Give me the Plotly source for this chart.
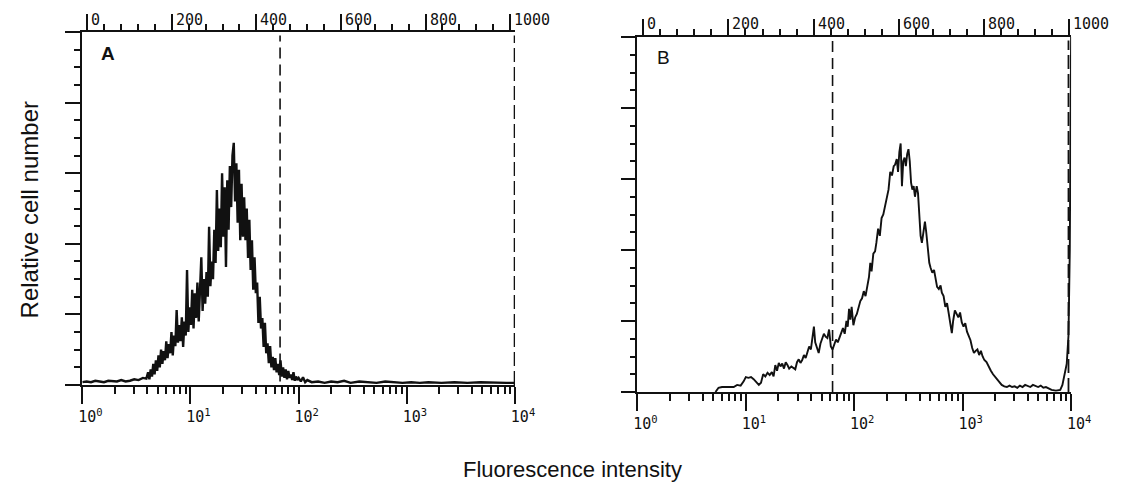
import plotly.graph_objects as go

W, H = 1142, 482

# ---------------- data (channel 0-1000 over 4 decades, relative count) -------------
A_channel = [0, 10, 20, 30, 40, 50, 60, 70, 80, 90, 100, 110, 120, 130, 140, 148,
             152, 155, 158, 161, 164, 167, 170, 173, 176, 179, 182, 185, 188, 191, 194, 197,
             200, 203, 206, 209, 212, 215, 218, 221, 224, 227, 230, 233, 236, 239, 242, 245,
             248, 251, 254, 257, 260, 263, 266, 269, 272, 275, 278, 281, 284, 287, 290, 293,
             296, 299, 302, 305, 308, 311, 314, 317, 320, 323, 326, 329, 332, 335, 338, 341,
             344, 347, 350, 353, 356, 359, 362, 365, 368, 371, 374, 377, 380, 383, 386, 389,
             392, 395, 398, 401, 404, 407, 410, 413, 416, 419, 422, 425, 428, 431, 434, 437,
             440, 443, 446, 449, 452, 455, 458, 461, 464, 467, 470, 473, 476, 479, 482, 485,
             488, 491, 494, 497, 500, 505, 510, 515, 520,
             530, 545, 560, 575, 590, 605, 620, 640, 660, 680, 700, 720, 740, 760, 780, 800,
             830, 860, 890, 920, 950, 980, 1000]
A_count = [0.04, 0.05, 0.04, 0.06, 0.05, 0.04, 0.06, 0.05, 0.05, 0.07, 0.05, 0.06, 0.08, 0.07, 0.10, 0.09,
           0.18, 0.08, 0.22, 0.12, 0.30, 0.15, 0.35, 0.20, 0.42, 0.25, 0.50, 0.30, 0.48, 0.35, 0.62, 0.38,
           0.58, 0.45, 0.75, 0.42, 0.70, 0.55, 1.06, 0.60, 0.85, 0.62, 0.96, 0.54, 0.90, 0.70, 1.63, 0.75,
           1.10, 0.85, 1.35, 0.80, 1.30, 0.95, 1.45, 0.90, 1.40, 1.81, 1.05, 1.50, 1.15, 1.60, 1.25, 2.24,
           1.40, 1.75, 1.50, 2.20, 1.73, 2.76, 1.90, 2.50, 1.95, 3.00, 2.10, 2.80, 1.67, 2.90, 2.20, 3.10,
           2.52, 3.25, 3.43, 2.60, 3.14, 2.30, 3.05, 2.05, 2.85, 2.10, 2.66, 2.05, 2.50, 1.80, 2.34, 1.63,
           2.05, 1.35, 1.81, 1.30, 1.45, 0.88, 1.25, 0.80, 0.95, 0.54, 0.88, 0.45, 0.59, 0.31, 0.55, 0.25,
           0.40, 0.21, 0.38, 0.18, 0.30, 0.14, 0.35, 0.12, 0.25, 0.10, 0.22, 0.08, 0.20, 0.10, 0.15, 0.07,
           0.18, 0.06, 0.12, 0.07, 0.10, 0.05, 0.11, 0.04, 0.07,
           0.04, 0.05, 0.03, 0.05, 0.04, 0.06, 0.03, 0.05, 0.04, 0.03, 0.05, 0.04, 0.03, 0.04, 0.03, 0.04,
           0.03, 0.04, 0.03, 0.04, 0.03, 0.03, 0.03]

B_channel = [180, 187, 195, 205, 215, 222, 230, 238, 245, 250, 256, 262, 268, 274, 280, 285,
             290, 295, 300, 305, 310, 314, 318, 322, 326, 330, 334, 338, 342, 346, 350, 355,
             360, 364, 368, 372, 376, 380, 384, 388, 392, 396, 400, 404, 407, 410, 414, 418,
             422, 426, 430, 434, 438, 442, 446, 450, 454, 458, 462, 466, 470, 474, 478, 482,
             485, 488, 491, 494, 498, 502, 506, 510, 514, 518, 522, 526, 530, 534, 537, 540,
             544, 548, 551, 555, 559, 563, 567, 571, 575, 579, 583, 587, 591, 594, 598, 601,
             604, 607, 610, 613, 616, 619, 622, 625, 628, 631, 634, 637, 640, 644, 647, 650,
             653, 656, 660, 663, 666, 670, 673, 676, 680, 684, 688, 691, 695, 699, 702, 706,
             710, 714, 718, 722, 725, 728, 732, 736, 740, 744, 748, 752, 756, 760, 764, 768,
             772, 776, 780, 784, 788, 792, 796, 800, 805, 810, 815, 820, 825, 830, 835, 840,
             846, 852, 858, 864, 870, 876, 882, 888, 894, 900, 906, 912, 918, 924, 930, 936,
             942, 948, 955, 965, 975, 980, 985, 990, 994, 997, 1000]
B_count = [0.00, 0.06, 0.07, 0.07, 0.08, 0.07, 0.10, 0.09, 0.15, 0.21, 0.20, 0.21, 0.18, 0.14, 0.10, 0.13,
           0.25, 0.22, 0.27, 0.24, 0.28, 0.22, 0.38, 0.30, 0.41, 0.36, 0.40, 0.33, 0.42, 0.38, 0.33, 0.36,
           0.34, 0.32, 0.42, 0.46, 0.41, 0.45, 0.52, 0.48, 0.56, 0.64, 0.60, 0.78, 0.92, 0.70, 0.62, 0.55,
           0.68, 0.75, 0.82, 0.78, 0.76, 0.88, 0.64, 0.60, 0.66, 0.74, 0.70, 0.77, 0.84, 0.90, 0.82, 1.00,
           0.92, 1.17, 1.02, 1.20, 0.94, 1.05, 1.10, 1.20, 1.28, 1.32, 1.42, 1.35, 1.48, 1.62, 1.82, 1.70,
           1.95, 1.98, 2.10, 2.30, 2.20, 2.45, 2.50, 2.62, 2.70, 2.85, 3.10, 3.05, 3.18, 3.20, 3.28, 3.10,
           3.38, 3.50, 2.90, 3.25, 3.30, 3.18, 3.35, 3.42, 3.25, 2.95, 2.85, 2.90, 2.75, 2.90, 2.80, 2.45,
           2.20, 2.10, 2.30, 2.40, 2.25, 1.95, 1.82, 1.75, 1.68, 1.72, 1.55, 1.48, 1.45, 1.50, 1.40, 1.35,
           1.20, 1.25, 1.10, 0.95, 0.83, 1.00, 1.15, 1.10, 1.05, 1.12, 0.98, 0.92, 0.97, 0.85, 0.78, 0.73,
           0.62, 0.55, 0.58, 0.60, 0.52, 0.58, 0.50, 0.45, 0.42, 0.35, 0.30, 0.25, 0.21, 0.18, 0.13, 0.10,
           0.08, 0.07, 0.09, 0.07, 0.08, 0.06, 0.09, 0.07, 0.10, 0.08, 0.07, 0.10, 0.08, 0.07, 0.09, 0.06,
           0.07, 0.05, 0.03, 0.02, 0.03, 0.10, 0.27, 0.40, 0.80, 2.00, 5.00]

gate_A = 457          # channel of the dashed marker in panel A
gate_B = 450          # channel of the dashed marker in panel B
edge_A = 999          # right-hand dashed marker, panel A
edge_B = 994          # right-hand dashed marker, panel B

decade_vals = [1, 10, 100, 1000, 10000]
decade_text = ["10<sup>0</sup>", "10<sup>1</sup>", "10<sup>2</sup>", "10<sup>3</sup>", "10<sup>4</sup>"]
minor_log_vals = [m * 10 ** k for k in range(4) for m in range(2, 10)]
top_vals = [0, 200, 400, 600, 800, 1000]
top_text = ["0", "200", "400", "600", "800", "1000"]
top_minor_vals = [v for v in range(0, 1001, 40) if v % 200 != 0]
y_major = [0, 1, 2, 3, 4, 5]
y_minor = [i * 0.25 for i in range(21) if i % 4 != 0]

panel_labels = ["A", "B"]
x_title = "Fluorescence intensity"
y_title = "Relative cell number"


def ch2fl(c):
    return 10 ** (c / 250.0)


BLACK = "#111111"
TICKFONT = dict(family="DejaVu Sans Mono", size=15, color=BLACK)

fig = go.Figure()

# ---------------- traces ----------------
fig.add_trace(go.Scatter(x=[ch2fl(c) for c in A_channel], y=A_count, mode="lines",
                         line=dict(color=BLACK, width=2.4), xaxis="x", yaxis="y",
                         showlegend=False, hoverinfo="skip"))
fig.add_trace(go.Scatter(x=[ch2fl(gate_A)] * 2, y=[0.05, 4.95], mode="lines",
                         line=dict(color=BLACK, width=1.6, dash="11px,6px"), xaxis="x", yaxis="y",
                         showlegend=False, hoverinfo="skip"))
fig.add_trace(go.Scatter(x=[ch2fl(edge_A)] * 2, y=[0.0, 4.95], mode="lines",
                         line=dict(color=BLACK, width=1.8, dash="14px,5px"), xaxis="x", yaxis="y",
                         showlegend=False, hoverinfo="skip"))

fig.add_trace(go.Scatter(x=[ch2fl(c) for c in B_channel], y=B_count, mode="lines",
                         line=dict(color=BLACK, width=1.9), xaxis="x5", yaxis="y2",
                         showlegend=False, hoverinfo="skip"))
fig.add_trace(go.Scatter(x=[ch2fl(gate_B)] * 2, y=[0.0, 4.95], mode="lines",
                         line=dict(color=BLACK, width=1.6, dash="11px,6px"), xaxis="x5", yaxis="y2",
                         showlegend=False, hoverinfo="skip"))
fig.add_trace(go.Scatter(x=[ch2fl(edge_B)] * 2, y=[0.0, 4.95], mode="lines",
                         line=dict(color=BLACK, width=1.8, dash="14px,5px"), xaxis="x5", yaxis="y2",
                         showlegend=False, hoverinfo="skip"))

# invisible traces so every overlay axis is drawn
for xa, ya in [("x2", "y"), ("x3", "y"), ("x4", "y"), ("x6", "y2"), ("x7", "y2"), ("x8", "y2")]:
    fig.add_trace(go.Scatter(x=[None], y=[None], xaxis=xa, yaxis=ya, showlegend=False,
                             hoverinfo="skip"))


def bottom_major(domain, anchor):
    return dict(domain=domain, type="log", range=[0, 4], anchor=anchor, showline=True,
                linecolor=BLACK, linewidth=1.8, ticks="outside", ticklen=17, tickwidth=1.6,
                tickcolor=BLACK, tickvals=decade_vals, ticktext=decade_text, tickfont=TICKFONT,
                ticklabelshift=8, showgrid=False, zeroline=False)


def bottom_minor(base, anchor):
    return dict(overlaying=base, type="log", range=[0, 4], anchor=anchor, showline=False,
                ticks="outside", ticklen=8, tickwidth=1.6, tickcolor=BLACK,
                tickvals=minor_log_vals, showticklabels=False, showgrid=False, zeroline=False)


def top_major(base, anchor, rng):
    return dict(overlaying=base, side="top", range=rng, anchor=anchor, showline=True,
                linecolor=BLACK, linewidth=1.8, ticks="outside", ticklen=16, tickwidth=1.6,
                tickcolor=BLACK, tickvals=top_vals, showticklabels=False, showgrid=False,
                zeroline=False)


def top_minor(base, anchor, rng):
    return dict(overlaying=base, side="top", range=rng, anchor=anchor, showline=False,
                ticks="outside", ticklen=7, tickwidth=1.6, tickcolor=BLACK,
                tickvals=top_minor_vals, showticklabels=False, showgrid=False, zeroline=False)


def yax(domain, anchor):
    return dict(domain=domain, range=[0, 5], anchor=anchor, showline=True, linecolor=BLACK,
                linewidth=1.8, ticks="outside", ticklen=15, tickwidth=1.6, tickcolor=BLACK,
                tickvals=y_major, showticklabels=False, showgrid=False, zeroline=False,
                minor=dict(tickvals=y_minor, ticks="outside", ticklen=6, tickwidth=1.5,
                           tickcolor=BLACK, showgrid=False))


A_dx = [80 / W, 522 / W]
B_dx = [647 / W, 1090 / W]
A_dy = [1 - 385 / H, 1 - 32 / H]
B_dy = [1 - 392 / H, 1 - 37 / H]
A_top_rng = [-11.6, 1011.6]
B_top_rng = [-13.8, 1004.6]

fig.update_layout(
    width=W, height=H, margin=dict(l=0, r=0, t=0, b=0),
    paper_bgcolor="white", plot_bgcolor="white", showlegend=False,
    xaxis=bottom_major(A_dx, "y"),
    xaxis2=bottom_minor("x", "y"),
    xaxis3=top_major("x", "y", A_top_rng),
    xaxis4=top_minor("x", "y", A_top_rng),
    xaxis5=bottom_major(B_dx, "y2"),
    xaxis6=bottom_minor("x5", "y2"),
    xaxis7=top_major("x5", "y2", B_top_rng),
    xaxis8=top_minor("x5", "y2", B_top_rng),
    yaxis=yax(A_dy, "x"),
    yaxis2=yax(B_dy, "x5"),
)

ann = []
TOPFONT = dict(family="DejaVu Sans Mono", size=15, color=BLACK)
for v, t in zip(top_vals, top_text):
    ann.append(dict(x=v, xref="x3", y=1 - 20 / H, yref="paper", text=t, showarrow=False,
                    xanchor="left", yanchor="middle", xshift=2, font=TOPFONT))
    ann.append(dict(x=v, xref="x7", y=1 - 24 / H, yref="paper", text=t, showarrow=False,
                    xanchor="left", yanchor="middle", xshift=2, font=TOPFONT))

ann.append(dict(x=106 / W, y=1 - 53 / H, xref="paper", yref="paper", text="<b>" + panel_labels[0] + "</b>",
                showarrow=False, xanchor="center", yanchor="middle",
                font=dict(family="Liberation Sans", size=19, color=BLACK)))
ann.append(dict(x=674 / W, y=1 - 57 / H, xref="paper", yref="paper", text=panel_labels[1],
                showarrow=False, xanchor="center", yanchor="middle",
                font=dict(family="Liberation Sans", size=19, color=BLACK)))
ann.append(dict(x=581 / W, y=1 - 469 / H, xref="paper", yref="paper", text=x_title,
                showarrow=False, xanchor="center", yanchor="middle",
                font=dict(family="Liberation Sans", size=22, color=BLACK)))
ann.append(dict(x=26 / W, y=1 - 210 / H, xref="paper", yref="paper", text=y_title,
                showarrow=False, xanchor="center", yanchor="middle", textangle=-90,
                font=dict(family="Liberation Sans", size=24, color=BLACK)))
fig.update_layout(annotations=ann)

fig.write_html("out.html")
